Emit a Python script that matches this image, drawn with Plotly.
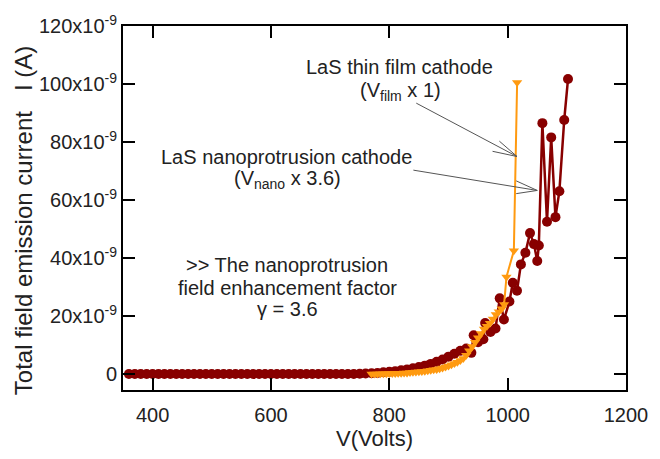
import plotly.graph_objects as go

# ---- data (V in volts, I in nA) ----
nano_v = [360, 370, 380, 390, 400, 410, 420, 430, 440, 450, 460, 470, 480, 490, 500,
          510, 520, 530, 540, 550, 560, 570, 580, 590, 600, 610, 620, 630, 640, 650,
          660, 670, 680, 690, 700, 710, 720, 730, 740, 750, 760, 770, 780, 790, 800,
          810, 820, 830, 840, 850, 860, 870, 880, 890, 900, 910, 920, 930,
          938.7, 942.6, 950, 959, 962, 971, 979.5, 986.6, 993.7, 1003, 1008.7, 1015.8,
          1022.4, 1030, 1037.8, 1044.4, 1050, 1052.7, 1058.7, 1066.5, 1073.6, 1080.8,
          1087.4, 1095.6, 1102]
nano_i = [0, 0, 0, 0, 0, 0, 0, 0, 0, 0, 0, 0, 0, 0, 0,
          0, 0, 0, 0, 0, 0, 0, 0, 0, 0, 0, 0, 0, 0, 0,
          0, 0, 0, 0, 0, 0, 0, 0, 0, 0.1, 0.2, 0.3, 0.4, 0.6, 0.8,
          1.0, 1.3, 1.6, 2.0, 2.4, 2.9, 3.5, 4.2, 5.0, 6.0, 7.0, 8.0, 8.8,
          7.3, 13.4, 11.0, 12.0, 17.6, 14.5, 15.7, 26.1, 18.8, 25.0, 31.5, 28.7,
          37.8, 41.8, 48.6, 44.8, 39.0, 44.3, 86.5, 52.5, 81.6, 54.1,
          63.0, 87.6, 101.7]

film_v = [770, 775, 780, 785, 790, 795, 800, 805, 810, 815, 820, 825, 830, 835, 840,
          845, 850, 855, 860, 865, 870, 875, 880, 885, 890, 895, 900, 905, 910, 915,
          920, 925, 930, 935, 940, 945, 950, 955, 960, 965, 970, 975, 980, 985, 990,
          994, 998, 1010.5, 1016]
film_i = [0, 0.02, 0.05, 0.07, 0.1, 0.12, 0.15, 0.18, 0.2, 0.25, 0.3, 0.35, 0.4, 0.5, 0.6,
          0.7, 0.8, 0.9, 1.0, 1.15, 1.3, 1.45, 1.6, 1.8, 2.1, 2.4, 2.8, 3.2, 3.6, 4.1,
          4.7, 5.4, 6.5, 8.0, 9.5, 11.0, 12.5, 14.0, 15.5, 16.5, 17.5, 19.0, 20.5, 21.5, 22.5,
          24.0, 33.5, 42.5, 100.5]

y_tickvals = [0, 20, 40, 60, 80, 100, 120]
y_ticktext = ["0", "20x10<sup>-9</sup>", "40x10<sup>-9</sup>", "60x10<sup>-9</sup>",
              "80x10<sup>-9</sup>", "100x10<sup>-9</sup>", "120x10<sup>-9</sup>"]
x_tickvals = [400, 600, 800, 1000, 1200]

RED = "#880000"
ORANGE = "#FF9A10"
FONT = "Liberation Sans, Arial, sans-serif"
TXT = "#222222"

fig = go.Figure()
fig.add_trace(go.Scatter(x=nano_v, y=nano_i, mode="lines+markers",
                         line=dict(color=RED, width=2.5),
                         marker=dict(color=RED, size=10, symbol="circle"),
                         showlegend=False))
fig.add_trace(go.Scatter(x=film_v, y=film_i, mode="lines+markers",
                         line=dict(color=ORANGE, width=2),
                         marker=dict(color=ORANGE, size=9, symbol="triangle-down"),
                         showlegend=False))

# text annotations (one per line)
texts = [
    (817.5, 105.9, "LaS thin film cathode"),
    (819, 97.5, "(V<sub>film</sub> x 1)"),
    (626, 75.0, "LaS nanoprotrusion cathode"),
    (627.5, 67.2, "(V<sub>nano</sub> x 3.6)"),
    (627.5, 37.6, "&gt;&gt; The nanoprotrusion"),
    (627.5, 29.6, "field enhancement factor"),
    (627.5, 22.5, "γ = 3.6"),
]
for x, y, t in texts:
    fig.add_annotation(x=x, y=y, text=t, showarrow=False, xanchor="center", yanchor="middle",
                       font=dict(family=FONT, size=20, color=TXT))

# y-axis title placed as rotated annotation
fig.add_annotation(xref="paper", yref="paper", x=-0.198, y=0.465,
                   text="Total field emission current   I (A)", textangle=-90,
                   showarrow=False, xanchor="center", yanchor="middle",
                   font=dict(family=FONT, size=24, color=TXT))

# arrow lines (tail -> tip) and open heads
arrows = [
    ((845.6, 93.4), (1015.8, 75.0), [(986, 80.3), (974.5, 76.8)]),
    ((840.7, 70.3), (1050.0, 63.3), [(1014.5, 66.6), (1014.5, 62.2)]),
]
for tail, tip, heads in arrows:
    fig.add_shape(type="line", x0=tail[0], y0=tail[1], x1=tip[0], y1=tip[1],
                  line=dict(color="#555555", width=1))
    for h in heads:
        fig.add_shape(type="line", x0=h[0], y0=h[1], x1=tip[0], y1=tip[1],
                      line=dict(color="#555555", width=1))

axis_common = dict(showline=True, linecolor="black", linewidth=2, mirror="ticks",
                   ticks="inside", ticklen=12, tickwidth=2, tickcolor="black",
                   showgrid=False, zeroline=False, ticklabeloverflow="allow",
                   tickfont=dict(family=FONT, size=20, color=TXT))

fig.update_xaxes(range=[350, 1200], tickvals=x_tickvals, ticklabelstandoff=6,
                 title=dict(text="V(Volts)", font=dict(family=FONT, size=22, color=TXT), standoff=6),
                 **axis_common)
fig.update_yaxes(range=[-5.5, 120], tickvals=y_tickvals, ticktext=y_ticktext,
                 **axis_common)

fig.update_layout(width=660, height=459, margin=dict(l=123, r=22, t=18, b=67),
                  plot_bgcolor="white", paper_bgcolor="white",
                  font=dict(family=FONT, color=TXT))

fig.write_html("out.html")
